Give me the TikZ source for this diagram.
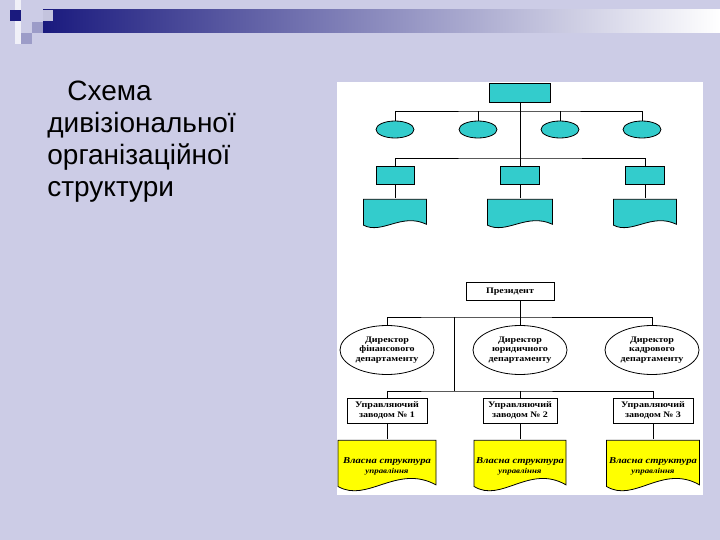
\documentclass[tikz,border=0pt]{standalone}
\usepackage{fontspec}
\setmainfont{Liberation Serif}
\newfontfamily\titlefont{Liberation Sans}
\newfontfamily\chartfont[FakeStretch=1.18]{Liberation Serif}
\usetikzlibrary{positioning,shapes.geometric,calc}
\definecolor{slidebg}{HTML}{CCCCE6}
\definecolor{barblue}{HTML}{1A1A7E}
\definecolor{sqgrey}{HTML}{9C9CC8}
\definecolor{orgcyan}{HTML}{33CCCC}
\definecolor{orgyellow}{HTML}{FFFF00}

\begin{document}
\begin{tikzpicture}[x=1pt,y=-1pt,line width=0.8pt,
  cbox/.style={draw,fill=orgcyan,inner sep=0pt},
  coval/.style={ellipse,draw,fill=orgcyan,inner sep=0pt,minimum width=38pt,minimum height=17pt},
  wbox/.style={draw,fill=white,inner sep=0pt,align=center,font=\chartfont\bfseries\fontsize{8.5}{10}\selectfont},
  woval/.style={ellipse,draw,fill=white,inner sep=0pt,minimum width=94pt,minimum height=49pt,align=center,font=\chartfont\bfseries\fontsize{8.5}{9.5}\selectfont},
  docbox/.style={inner sep=0pt,align=center,path picture={
    \path[draw=black,fill=#1] let \p1=(path picture bounding box.north west),\p2=(path picture bounding box.south east),
      \n1={\y1-\y2},\n2={\x2-\x1} in
      (\x1+0.5pt,\y1-0.5pt) -- (\x2-0.5pt,\y1-0.5pt) -- (\x2-0.5pt,\y1-0.85*\n1)
      .. controls (\x2-0.4*\n2,\y1-0.45*\n1) and (\x1+0.3*\n2,\y1-1.2*\n1) .. (\x1+0.5pt,\y1-0.88*\n1) -- cycle;}},
  ytext/.style={font=\chartfont\bfseries\itshape\fontsize{9}{10.5}\selectfont}]
\useasboundingbox (0,0) rectangle (720,540);
\fill[slidebg] (0,0) rectangle (720,540);
\shade[left color=barblue,right color=white] (43,10) rectangle (720,33);
\fill[white!70!slidebg] (15,0) rectangle (21,44);
\fill[barblue] (10,10) rectangle (21,21);
\fill[sqgrey] (32,22) rectangle (43,33);
\fill[sqgrey] (21,33) rectangle (32,44);
\fill[sqgrey!60!white] (43,10) rectangle (53,21);
\node[font=\titlefont\fontsize{28}{32}\selectfont,align=left,anchor=north west,inner sep=0pt] (title) at (47,81)
  {\hspace*{20pt}Схема\\дивізіональної\\організаційної\\структури};
\fill[white] (337,82) rectangle (703,495);

\node[cbox,minimum width=61pt,minimum height=19pt] (top) at (520,92.5) {};
\foreach \i/\x in {1/395,2/478,3/560,4/642}
  \node[coval] (e\i) at (\x,129.5) {};
\node[cbox,minimum width=38pt,minimum height=18pt] (r1) at (395,175) {};
\node[cbox,minimum width=39pt,minimum height=18pt] (r2) at (520,175) {};
\node[cbox,minimum width=39pt,minimum height=18pt] (r3) at (645,175) {};
\node[docbox=orgcyan,minimum width=64pt,minimum height=30pt,below=14pt of r1] (d1) {};
\node[docbox=orgcyan,minimum width=66pt,minimum height=30pt,below=14pt of r2] (d2) {};
\node[docbox=orgcyan,minimum width=64pt,minimum height=30pt,below=14pt of r3] (d3) {};
\coordinate (bus1) at (520,111);
\coordinate (bus2) at (520,158);
\draw (e1.north) |- (bus1) -| (e4.north);
\draw (e2.north) -- (e2.north |- bus1);
\draw (e3.north) -- (e3.north |- bus1);
\draw (r1.north) |- (bus2) -| (r3.north);
\draw (top) -- (r2);
\draw (r1) -- (d1);
\draw (r2) -- (d2);
\draw (r3) -- (d3);

\node[wbox,minimum width=88pt,minimum height=18pt] (pres) at (510,291.5) {Президент};
\node[woval] (m1) at (387,350) {Директор\\фінансового\\департаменту};
\node[woval] (m2) at (520,350) {Директор\\юридичного\\департаменту};
\node[woval] (m3) at (652,350) {Директор\\кадрового\\департаменту};
\node[wbox,minimum width=80pt,minimum height=25pt] (u1) at (387,410.5) {Управляючий\\заводом № 1};
\node[wbox,minimum width=74pt,minimum height=25pt] (u2) at (520,410.5) {Управляючий\\заводом № 2};
\node[wbox,minimum width=80pt,minimum height=25pt] (u3) at (653,410.5) {Управляючий\\заводом № 3};
\node[docbox=orgyellow,ytext,minimum width=99pt,minimum height=53pt,below=16pt of u1] (y1)
  {Власна структура\\{\fontsize{7.5}{9}\selectfont управління}};
\node[docbox=orgyellow,ytext,minimum width=93pt,minimum height=53pt,below=16pt of u2] (y2)
  {Власна структура\\{\fontsize{7.5}{9}\selectfont управління}};
\node[docbox=orgyellow,ytext,minimum width=94pt,minimum height=53pt,below=16pt of u3] (y3)
  {Власна структура\\{\fontsize{7.5}{9}\selectfont управління}};
\coordinate (bus3) at (454,317);
\coordinate (bus4) at (454,391);
\draw (m1.north) |- (bus3) -| (m3.north);
\draw (pres.south -| m2.north) -- (m2.north);
\draw (bus3) -- (bus4);
\draw (u1.north) |- (bus4) -| (u3.north);
\draw (u2.north) -- (u2.north |- bus4);
\draw (u1) -- (y1);
\draw (u2) -- (y2);
\draw (u3) -- (y3);
\end{tikzpicture}
\end{document}
